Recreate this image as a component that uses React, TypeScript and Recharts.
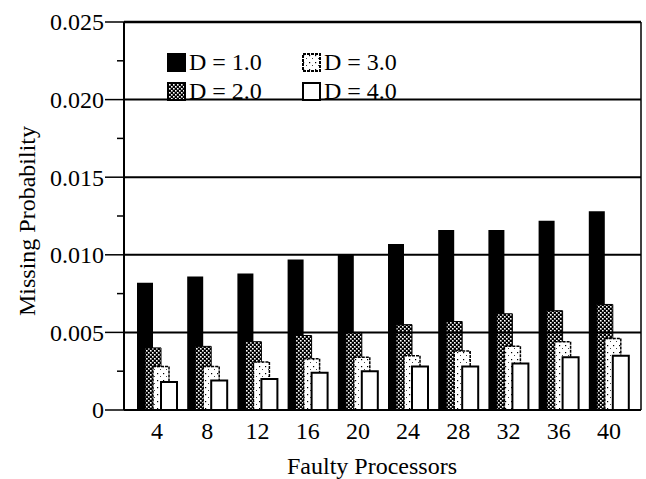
import React from 'react';
import { BarChart, Bar, XAxis, YAxis, ReferenceLine, Legend } from 'recharts';

const processors = ['4', '8', '12', '16', '20', '24', '28', '32', '36', '40'];
const d1 = [0.0082, 0.0086, 0.0088, 0.0097, 0.01, 0.0107, 0.0116, 0.0116, 0.0122, 0.0128];
const d2 = [0.004, 0.0041, 0.0044, 0.0048, 0.005, 0.0055, 0.0057, 0.0062, 0.0064, 0.0068];
const d3 = [0.0028, 0.0028, 0.0031, 0.0033, 0.0034, 0.0035, 0.0038, 0.0041, 0.0044, 0.0046];
const d4 = [0.0018, 0.0019, 0.002, 0.0024, 0.0025, 0.0028, 0.0028, 0.003, 0.0034, 0.0035];

const yTicks = [0, 0.0025, 0.005, 0.0075, 0.01, 0.0125, 0.015, 0.0175, 0.02, 0.0225, 0.025];
const gridLines = [0.005, 0.01, 0.015, 0.02, 0.025];

const chartData = processors.map((p, i) => ({ p, d1: d1[i], d2: d2[i], d3: d3[i], d4: d4[i] }));

const FONT = '"Liberation Serif", "DejaVu Serif", serif';
const FS = 24;

const YTick = (props: any) => {
  const { x, y, payload } = props;
  const v = payload.value as number;
  const major = Math.round(v / 0.0025) % 2 === 0;
  const label = v === 0 ? '0' : v.toFixed(3);
  return (
    <g>
      <line x1={major ? x - 19 : x - 7} x2={x} y1={y} y2={y} stroke="#000" strokeWidth={1.5} />
      {major && (
        <text x={x - 20} y={y} dy="0.35em" textAnchor="end" fontFamily={FONT} fontSize={FS} fill="#000">
          {label}
        </text>
      )}
    </g>
  );
};

const swatches = [
  { name: 'D = 1.0', fill: '#000', stroke: '#000', dash: undefined },
  { name: 'D = 3.0', fill: 'url(#dotted)', stroke: '#000', dash: '3 1' },
  { name: 'D = 2.0', fill: 'url(#checker)', stroke: '#000', dash: undefined },
  { name: 'D = 4.0', fill: '#fff', stroke: '#000', dash: undefined },
];

const LegendBox = () => (
  <div
    style={{
      display: 'grid',
      gridTemplateColumns: '135px 140px',
      rowGap: 7,
      fontFamily: FONT,
      fontSize: FS,
      lineHeight: '22px',
      color: '#000',
    }}
  >
    {swatches.map((s) => (
      <div key={s.name} style={{ display: 'flex', alignItems: 'center' }}>
        <svg width={19} height={19} style={{ marginRight: 3 }}>
          <rect x={1} y={1} width={17} height={17} fill={s.fill} stroke={s.stroke} strokeWidth={2} strokeDasharray={s.dash} />
        </svg>
        <span>{s.name}</span>
      </div>
    ))}
  </div>
);

export default function App() {
  return (
    <div style={{ position: 'absolute', left: 0, top: 0, width: 646, height: 479, background: '#fff' }}>
      <BarChart
        width={646}
        height={479}
        data={chartData}
        margin={{ top: 22, right: 0, bottom: 0, left: 0 }}
        barSize={16}
        barGap={-8}
      >
        <defs>
          <pattern id="checker" width={4} height={4} patternUnits="userSpaceOnUse">
            <rect width={4} height={4} fill="#000" />
            <rect x={0} y={0} width={1.6} height={1.6} fill="#fff" />
            <rect x={2} y={2} width={1.6} height={1.6} fill="#fff" />
          </pattern>
          <pattern id="dotted" width={6} height={7} patternUnits="userSpaceOnUse">
            <rect width={6} height={7} fill="#fff" />
            <rect x={1} y={2} width={1.2} height={1.2} fill="#000" />
            <rect x={4} y={5} width={1} height={1} fill="#444" />
          </pattern>
        </defs>
        <XAxis
          dataKey="p"
          height={69}
          padding={{ left: 8, right: 7 }}
          tickLine={false}
          tickSize={0}
          tickMargin={12}
          axisLine={{ stroke: '#000', strokeWidth: 2 }}
          tick={{ fontFamily: FONT, fontSize: FS, fill: '#000' }}
          label={() => (
            <text x={372} y={474} textAnchor="middle" fontFamily={FONT} fontSize={FS} fill="#000">
              Faulty Processors
            </text>
          )}
        />
        <YAxis
          width={124}
          domain={[0, 0.025]}
          ticks={yTicks}
          interval={0}
          tickLine={false}
          tickSize={0}
          tickMargin={0}
          axisLine={{ stroke: '#000', strokeWidth: 2 }}
          tick={<YTick />}
          label={() => (
            <text
              x={27}
              y={221}
              transform="rotate(-90, 27, 221)"
              textAnchor="middle"
              dominantBaseline="central"
              fontFamily={FONT}
              fontSize={FS}
              fill="#000"
            >
              Missing Probability
            </text>
          )}
        />
        <YAxis
          yAxisId="right"
          orientation="right"
          width={5}
          tick={false}
          tickLine={false}
          axisLine={{ stroke: '#000', strokeWidth: 1.5 }}
        />
        {gridLines.map((v) => (
          <ReferenceLine key={v} y={v} stroke="#000" strokeWidth={v === 0.025 ? 2.5 : 2} />
        ))}
        <Legend
          layout="horizontal"
          verticalAlign="middle"
          align="center"
          content={<LegendBox />}
          wrapperStyle={{ top: 51, left: 167, width: 290 }}
        />
        <Bar dataKey="d1" name="D = 1.0" fill="#000" isAnimationActive={false} />
        <Bar dataKey="d2" name="D = 2.0" fill="url(#checker)" stroke="#000" strokeWidth={1} isAnimationActive={false} />
        <Bar
          dataKey="d3"
          name="D = 3.0"
          fill="url(#dotted)"
          stroke="#000"
          strokeWidth={1.5}
          strokeDasharray="3 1"
          isAnimationActive={false}
        />
        <Bar dataKey="d4" name="D = 4.0" fill="#fff" stroke="#000" strokeWidth={2} isAnimationActive={false} />
      </BarChart>
    </div>
  );
}
